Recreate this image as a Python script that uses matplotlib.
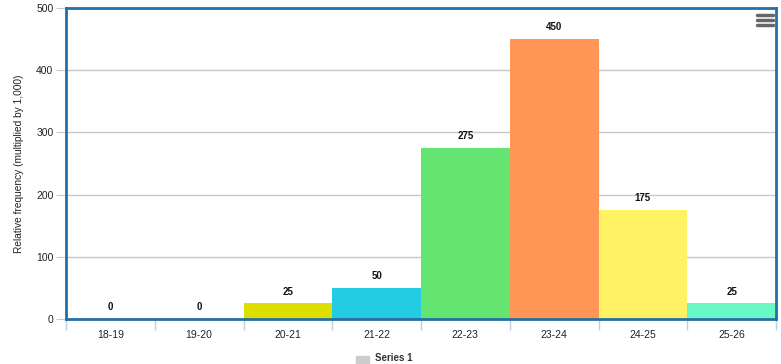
import numpy as np
import matplotlib.pyplot as plt
from matplotlib.lines import Line2D
from matplotlib.patches import Rectangle

# data
cats = ['18-19', '19-20', '20-21', '21-22', '22-23', '23-24', '24-25', '25-26']
vals = [0, 0, 25, 50, 275, 450, 175, 25]
cols = ['#058DC7', '#50B432', '#DDDF00', '#24CBE5', '#64E572', '#FF9655', '#FFF263', '#6AF9C4']

plt.rcParams['font.family'] = ['Liberation Sans', 'DejaVu Sans']

fig = plt.figure(figsize=(7.81, 3.64), dpi=100)
ax = fig.add_axes([66/781, 1-319/364, 710/781, 311/364])

x = np.arange(len(cats))
ax.bar(x, vals, width=1.0, color=cols, zorder=2)
for xi, v in zip(x, vals):
    ax.annotate(str(v), (xi, v), xytext=(0, 5), textcoords='offset points',
                ha='center', va='bottom', fontsize=7, fontweight='bold', color='#111111')

ax.set_xlim(-0.5, len(cats)-0.5)
ax.set_ylim(0, 500)
ax.set_yticks([0, 100, 200, 300, 400, 500])
ax.grid(axis='y', color='#c8c8c8', lw=1, zorder=0)
ax.set_xticks(x)
ax.set_xticklabels(cats, fontsize=7.5, color='#222222')
ax.set_xticks(np.arange(-0.5, len(cats)), minor=True)
ax.tick_params(axis='x', which='major', length=0, pad=8)
ax.tick_params(axis='x', which='minor', length=8, color='#c0d0e0', width=1)
ax.tick_params(axis='y', length=7, color='#c8c8c8', labelsize=7.5, labelcolor='#222222', pad=2)
for s in ax.spines.values():
    s.set_color('#2670a8')
    s.set_linewidth(2)
ax.set_ylabel('Relative frequency (multiplied by 1,000)', fontsize=7.3, color='#222222', labelpad=9)

# menu icon
for yy in [15, 20, 25]:
    fig.add_artist(Line2D([757/781, 773/781], [1-yy/364, 1-yy/364], color='#666666', lw=2.5,
                          solid_capstyle='round'))

# legend at the bottom edge
fig.add_artist(Rectangle((356/781, 1-364/364), 13/781, 8/364, color='#cccccc'))
fig.text(375/781, 1-353/364, 'Series 1', fontsize=7, fontweight='bold', color='#333333', va='top')

fig.savefig('out.png', dpi=100)
